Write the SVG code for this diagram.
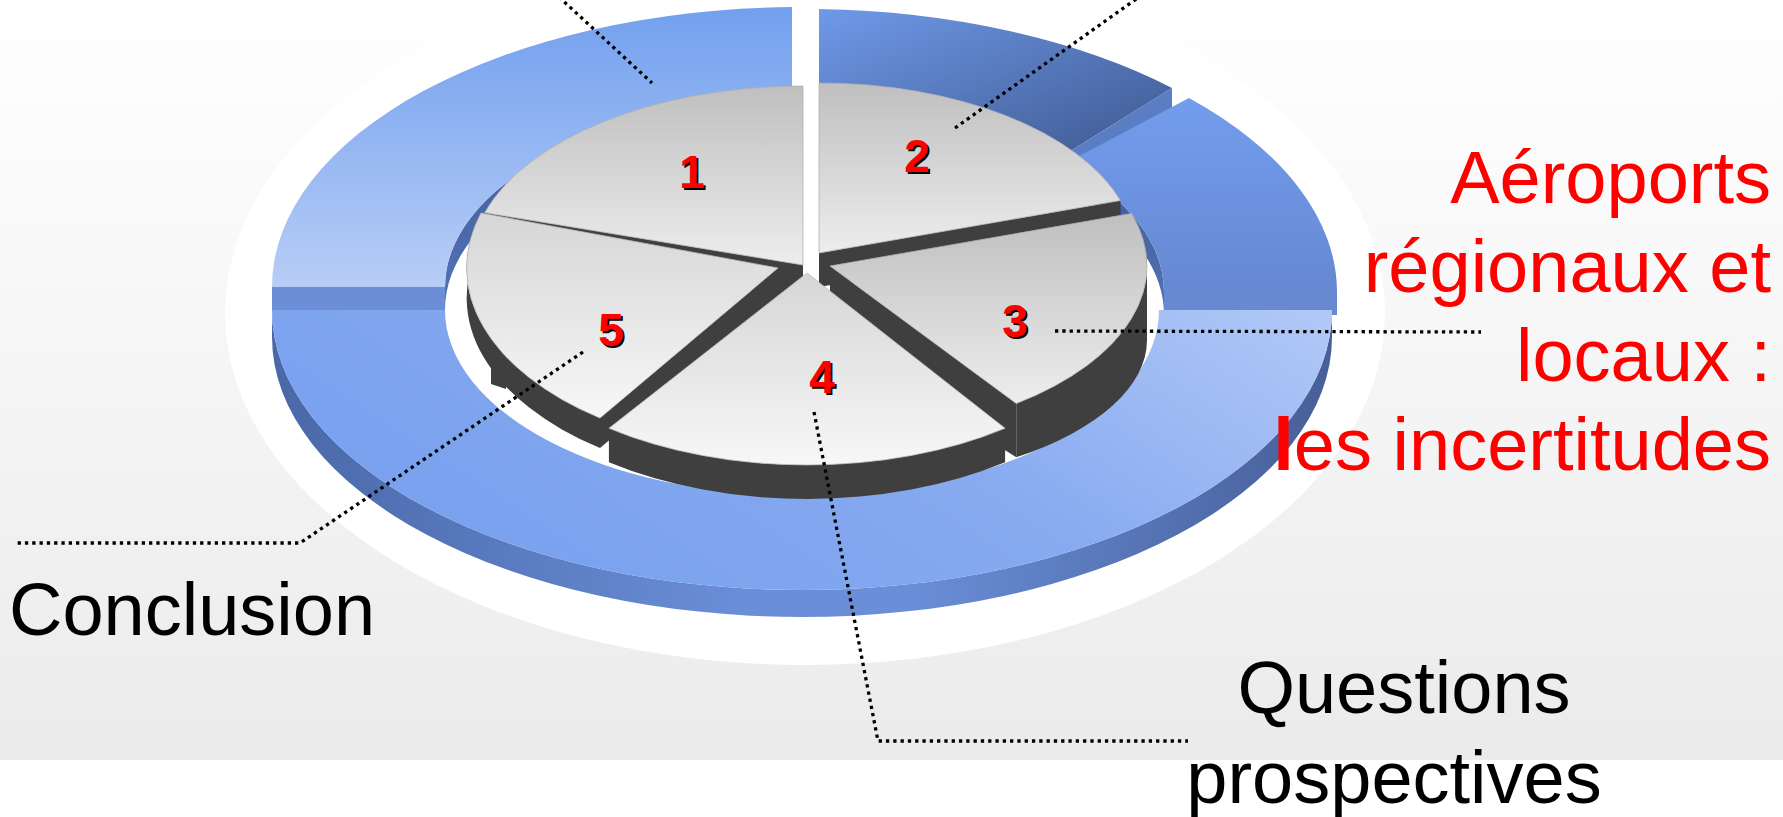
<svg xmlns="http://www.w3.org/2000/svg" width="1783" height="817" viewBox="0 0 1783 817">
<defs>
<linearGradient id="bg" x1="0" y1="0" x2="0" y2="760" gradientUnits="userSpaceOnUse"><stop offset="0" stop-color="#ffffff"/><stop offset="1" stop-color="#ebebeb"/></linearGradient>
<linearGradient id="r1" x1="0" y1="0" x2="0" y2="1"><stop offset="0" stop-color="#72a0ee"/><stop offset="1" stop-color="#b8cdf6"/></linearGradient>
<linearGradient id="r2" x1="0" y1="0" x2="1" y2="1"><stop offset="0" stop-color="#6f99e8"/><stop offset="1" stop-color="#3d578e"/></linearGradient>
<linearGradient id="r3" x1="0" y1="0" x2="0" y2="1"><stop offset="0" stop-color="#729ded"/><stop offset="1" stop-color="#6688d2"/></linearGradient>
<linearGradient id="rl" x1="0" y1="0.4" x2="1" y2="0"><stop offset="0" stop-color="#79a1ee"/><stop offset="0.5" stop-color="#87aaf0"/><stop offset="1" stop-color="#b2c9f7"/></linearGradient>
<linearGradient id="rside" x1="0" y1="0" x2="1" y2="0"><stop offset="0" stop-color="#4a68a8"/><stop offset="0.45" stop-color="#6a8ed8"/><stop offset="0.6" stop-color="#6a8ed8"/><stop offset="1" stop-color="#475f98"/></linearGradient>
<linearGradient id="wall" x1="0" y1="0" x2="0" y2="1"><stop offset="0" stop-color="#3f5a96"/><stop offset="1" stop-color="#5373b6"/></linearGradient>
<linearGradient id="pb" x1="0" y1="0" x2="0" y2="1"><stop offset="0" stop-color="#bfbfbf"/><stop offset="1" stop-color="#ededed"/></linearGradient>
<linearGradient id="pf" x1="0" y1="0" x2="0" y2="1"><stop offset="0" stop-color="#d6d6d6"/><stop offset="1" stop-color="#f7f7f7"/></linearGradient>
</defs>
<style>
.side{fill:#3f3f3f}
.topb{fill:url(#pb);stroke:#b0b0b0;stroke-width:0.8}
.topf{fill:url(#pf);stroke:#b8b8b8;stroke-width:0.8}
.num{font-family:"Liberation Sans",Arial,sans-serif;font-weight:bold;font-size:46px;text-anchor:middle}
.sh{fill:#000}
.rd{fill:#ff0000}
.dot{fill:none;stroke:#000;stroke-width:3.3;stroke-dasharray:3.3 4}
.lbl{font-family:"Liberation Sans",Arial,sans-serif;font-size:74px}
</style>
<rect x="0" y="0" width="1783" height="817" fill="#ffffff"/>
<rect x="0" y="0" width="1783" height="760" fill="url(#bg)"/>
<ellipse cx="805" cy="313" rx="580" ry="352" fill="#ffffff"/>

<g id="ring">
<path d="M445,287 A357 186 0 0 1 792,101.1 L792,124.1 A357 186 0 0 0 445,310 Z" fill="url(#wall)"/>
<path d="M1065.1,163.5 A357 186 0 0 1 1164,292 L1164,315 A357 186 0 0 0 1065.1,186.5 Z" fill="url(#wall)"/>
<path id="ring1" d="M792,7 A530 280 0 0 0 272,287 L445,287 A357 186 0 0 1 792,101.1 Z" fill="url(#r1)"/>
<rect x="272" y="287" width="173" height="23" fill="#6b8ed6"/>
<path id="ring2" d="M819,9.1 A530 280 0 0 1 1172,88 L1057.5,159.1 A357 186 0 0 0 819,103.2 Z" fill="url(#r2)"/>
<path d="M1172,88 L1057.5,159.1 L1057.5,179.1 L1172,108 Z" fill="#5b7dc4"/>
<rect x="1164" y="292" width="173" height="23" fill="#6889d2"/>
<path id="ring3" d="M1189,98 A530 280 0 0 1 1337,292 L1164,292 A357 186 0 0 0 1065.1,163.5 Z" fill="url(#r3)"/>
<path d="M272,310 A530 280 0 0 0 1332,310 L1332,337 A530 280 0 0 1 272,337 Z" fill="url(#rside)"/>
<path id="ringlow" d="M272,310 A530 280 0 0 0 1332,310 L1159,310 A357 186 0 0 1 445,310 Z" fill="url(#rl)"/>
</g>

<g id="seg1">
<path class="side" d="M803,265 L484.6,212.7 L484.6,246.7 L803,299 Z"/>
<path class="topb" d="M803,265 L803,86 A333 179 0 0 0 484.6,212.7 Z"/>
</g>
<g id="seg2">
<path class="side" d="M819,253 L1120.5,200.5 L1120.5,234.5 L819,287 Z"/>
<path class="topb" d="M819,253 L1120.5,200.5 A317 170 0 0 0 819,83 Z"/>
</g>
<g id="seg3">
<path class="side" d="M1131.5,213.5 A317 170 0 0 1 1016.3,403.5 L1016.3,457.3 A317 145 0 0 0 1147,340 L1147,266 Z"/>
<path class="side" d="M830,266 L1016.3,403.5 L1016.3,457.3 L830,340 Z"/>
<path class="topb" d="M830,266 L1131.5,213.5 A317 170 0 0 1 1016.3,403.5 Z"/>
</g>
<g id="seg5">
<path class="side" d="M481,213 A320 185 0 0 0 600,418 L600,448 A320 185 0 0 1 481,243 Z"/>
<path class="side" d="M778,268 L600,418 L600,448 L778,298 Z"/>
<path class="side" d="M491,358 L506,360 L506,389 L491,384 Z"/>
<path class="topf" d="M778,268 L481,213 A320 185 0 0 0 600,418 Z"/>
</g>
<g id="seg4">
<path class="side" d="M1005.1,428.3 A337 192 0 0 1 608.9,428.3 L608.9,462.3 A337 192 0 0 0 1005.1,462.3 Z"/>
<path class="topf" d="M807,273 L1005.1,428.3 A337 192 0 0 1 608.9,428.3 Z"/>
</g>

<g id="numbers">
<text class="num sh" x="694" y="190">1</text><text class="num rd" x="692" y="188">1</text>
<text class="num sh" x="919" y="174">2</text><text class="num rd" x="917" y="172">2</text>
<text class="num sh" x="1017" y="339">3</text><text class="num rd" x="1015" y="337">3</text>
<text class="num sh" x="824" y="395">4</text><text class="num rd" x="822" y="393">4</text>
<text class="num sh" x="613" y="348">5</text><text class="num rd" x="611" y="346">5</text>
</g>

<g id="connectors">
<path class="dot" d="M559,-3 L652,83"/>
<path class="dot" d="M955,128 L1139,-3"/>
<path class="dot" d="M1055,331 L1481,332"/>
<path class="dot" d="M814,412 L878,741 L1188,741"/>
<path class="dot" d="M583,352 L300,543 L17,543"/>
</g>

<g id="labels">
<text class="lbl" x="9" y="635" fill="#000">Conclusion</text>
<text class="lbl" x="1404" y="713" fill="#000" text-anchor="middle" font-size="73">Questions</text>
<text class="lbl" x="1394" y="803" fill="#000" text-anchor="middle" font-size="73">prospectives</text>
<g fill="#ff0000" text-anchor="end">
<text class="lbl" x="1771" y="203">Aéroports</text>
<text class="lbl" x="1771" y="292">régionaux et</text>
<text class="lbl" x="1771" y="381">locaux :</text>
<text class="lbl" x="1771" y="470"><tspan font-weight="bold">l</tspan>es incertitudes</text>
</g>
</g>
</svg>
